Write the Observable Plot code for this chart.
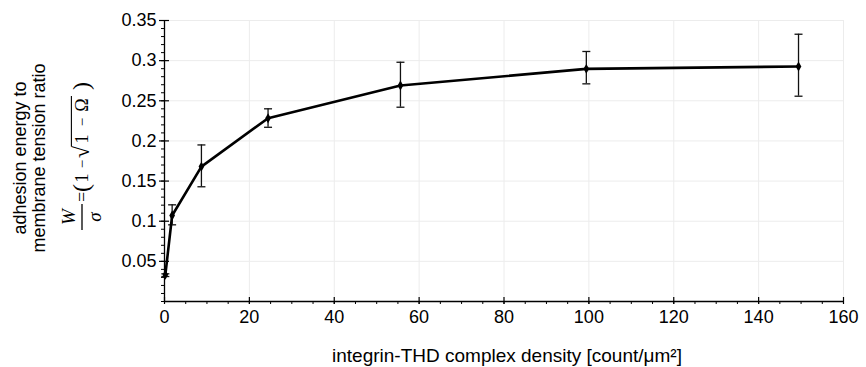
<!DOCTYPE html>
<html>
<head>
<meta charset="utf-8">
<script src="https://cdn.jsdelivr.net/npm/d3@7"></script>
<script src="https://cdn.jsdelivr.net/npm/@observablehq/plot@0.6"></script>
<style>
  html, body { margin: 0; padding: 0; background: #fff; }
  svg { display: block; }
</style>
</head>
<body>
<div id="chart"></div>
<script>
// Data
const density = [0.2, 1.8, 8.7, 24.4, 55.6, 99.4, 149.4];
const ratio   = [0.0333, 0.1071, 0.168, 0.2283, 0.269, 0.2898, 0.2927];
const errLow  = [0.0311, 0.0955, 0.1429, 0.217, 0.242, 0.2711, 0.2557];
const errHigh = [0.0345, 0.1204, 0.195, 0.240, 0.298, 0.3114, 0.3329];

const xTicks = [0, 20, 40, 60, 80, 100, 120, 140, 160];
const xTickLabels = ["0", "20", "40", "60", "80", "100", "120", "140", "160"];
const yTicks = [0.05, 0.1, 0.15, 0.2, 0.25, 0.3, 0.35];
const yTickLabels = ["0.05", "0.1", "0.15", "0.2", "0.25", "0.3", "0.35"];
const xMinorTicks = d3.range(0, 161, 5);
const yMinorTicks = d3.range(0, 36, 1).map(i => i / 100);

const xTitle = "integrin-THD complex density [count/μm²]";
const yTitle1 = "adhesion energy to";
const yTitle2 = "membrane tension ratio";

const data = density.map((d, i) => ({x: d, y: ratio[i], lo: errLow[i], hi: errHigh[i]}));

const cap = {
  draw(ctx, size) {
    const w = Math.sqrt(size / Math.PI);
    ctx.moveTo(-w, 0);
    ctx.lineTo(w, 0);
  }
};

const fmtX = d => xTickLabels[xTicks.indexOf(d)] ?? "";
const fmtY = d => { const i = yTicks.findIndex(t => Math.abs(t - d) < 1e-9); return i >= 0 ? yTickLabels[i] : ""; };

const plot = Plot.plot({
  width: 866,
  height: 367,
  marginLeft: 164,
  marginRight: 23,
  marginTop: 20,
  marginBottom: 66,
  style: {background: "#fff", color: "#000", fontFamily: "Liberation Sans, Arial, sans-serif", fontSize: "18px"},
  x: {domain: [0, 160]},
  y: {domain: [0, 0.35]},
  marks: [
    Plot.gridX(xTicks, {stroke: "#ececec", strokeOpacity: 1, strokeWidth: 1}),
    Plot.gridY(yTicks, {stroke: "#ececec", strokeOpacity: 1, strokeWidth: 1}),
    // minor ticks
    Plot.axisX(xMinorTicks, {anchor: "bottom", tickSize: 3, tickFormat: () => "", label: null, strokeWidth: 1}),
    Plot.axisY(yMinorTicks, {anchor: "left", tickSize: 3, tickFormat: () => "", label: null, strokeWidth: 1}),
    // major ticks crossing the axis
    Plot.axisX(xTicks, {anchor: "bottom", tickSize: 7, dy: -4, tickFormat: () => "", label: null, strokeWidth: 1.2}),
    Plot.axisY(yTicks, {anchor: "left", tickSize: 10, dx: 5, tickFormat: () => "", label: null, strokeWidth: 1.2}),
    // labels
    Plot.axisX(xTicks, {anchor: "bottom", tickSize: 0, tickPadding: 9, tickFormat: fmtX, label: null, fontSize: 18}),
    Plot.axisY(yTicks, {anchor: "left", tickSize: 0, tickPadding: 8, tickFormat: fmtY, label: null, fontSize: 18}),
    Plot.ruleX([0], {stroke: "#000", strokeWidth: 1.3}),
    Plot.ruleY([0], {stroke: "#000", strokeWidth: 1.3}),
    // error bars
    Plot.ruleX(data, {x: "x", y1: "lo", y2: "hi", stroke: "#111", strokeWidth: 1.3}),
    Plot.dot(data, {x: "x", y: "lo", symbol: cap, r: 4, stroke: "#111", strokeWidth: 1.3}),
    Plot.dot(data, {x: "x", y: "hi", symbol: cap, r: 4, stroke: "#111", strokeWidth: 1.3}),
    // line and points
    Plot.line(data, {x: "x", y: "y", stroke: "#000", strokeWidth: 2.6}),
    Plot.dot(data, {x: "x", y: "y", symbol: "diamond", r: 3, fill: "#000", stroke: "none"})
  ]
});

document.getElementById("chart").appendChild(plot);

const svg = d3.select(plot);
// x title
svg.append("text")
  .attr("x", 507).attr("y", 362)
  .attr("text-anchor", "middle")
  .attr("font-family", "Liberation Sans, Arial, sans-serif")
  .attr("font-size", 19)
  .attr("fill", "#000")
  .text(xTitle);

// y title lines
[[yTitle1, 26], [yTitle2, 45]].forEach(([t, x]) => {
  svg.append("text")
    .attr("transform", `translate(${x},158) rotate(-90)`)
    .attr("text-anchor", "middle")
    .attr("font-family", "Liberation Sans, Arial, sans-serif")
    .attr("font-size", 18)
    .attr("fill", "#000")
    .text(t);
});

// formula W/σ = (1 − √(1 − Ω)), laid out along the rotated axis
const g = svg.append("g").attr("transform", "translate(82,153) rotate(-90)")
  .attr("font-family", "Liberation Serif, DejaVu Serif, serif").attr("fill", "#000")
  .attr("text-anchor", "middle");
g.append("text").attr("x", -64).attr("y", -7)
  .attr("font-style", "italic").attr("font-size", 19).text("W");
g.append("line").attr("x1", -77).attr("x2", -51).attr("y1", 0).attr("y2", 0)
  .attr("stroke", "#000").attr("stroke-width", 1.3);
g.append("text").attr("x", -64).attr("y", 19)
  .attr("font-style", "italic").attr("font-size", 19).text("σ");

const glyphs = [
  ["=", -44, 18, 6],
  ["(", -35, 24, 7],
  ["1", -25, 18, 6],
  ["−", -11, 15, 5],
  ["√", 1, 22, 7],
  ["1", 14, 18, 6],
  ["−", 31, 15, 5],
  ["Ω", 48, 18, 6],
  [")", 67, 24, 7]
];
let radical = null;
glyphs.forEach(([ch, u, fs, base]) => {
  const el = g.append("text").attr("x", u).attr("y", base).attr("font-size", fs).text(ch);
  if (ch === "√") radical = el.node();
});
try {
  const b = radical.getBBox();
  const top = b.y + 2.4;
  g.append("line")
    .attr("x1", b.x + b.width - 1.5).attr("x2", 57)
    .attr("y1", top).attr("y2", top)
    .attr("stroke", "#000").attr("stroke-width", 1.1);
} catch (e) {}
</script>
</body>
</html>
